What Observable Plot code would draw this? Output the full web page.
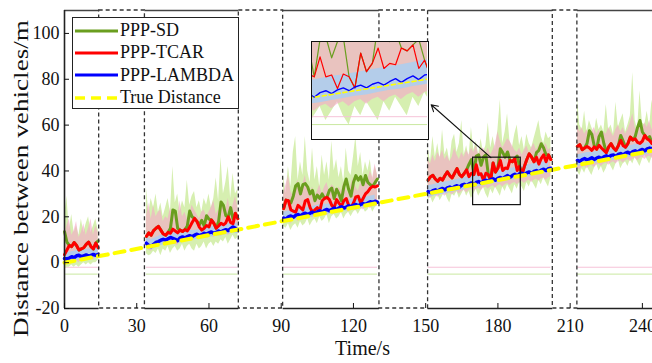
<!DOCTYPE html>
<html><head><meta charset="utf-8">
<script src="https://cdn.jsdelivr.net/npm/d3@7"></script>
<script src="https://cdn.jsdelivr.net/npm/@observablehq/plot@0.6"></script>
<style>
html,body{margin:0;padding:0;background:#fff;overflow:hidden}
#wrap{position:relative;width:652px;height:363px;font-family:"Liberation Serif","Times New Roman",serif}
#inset{position:absolute;left:311px;top:41px;width:118px;height:99px;border:1.5px solid #111;box-sizing:border-box;overflow:hidden;background:#fff}
#legend{position:absolute;left:72px;top:17px;width:167px;height:92px;border:1.4px solid #222;box-sizing:border-box;background:#fff;font-size:18px;color:#111;font-family:"Liberation Serif",serif}
.row{position:absolute;left:0;height:22px;display:flex;align-items:center;white-space:nowrap}
</style></head><body><div id="wrap"></div>
<script>
// ---------- data ----------
const segStart = [0, 34, 91, 151, 213];          // first epoch of each tracked segment (s)
const outStart = [14.4, 72.4, 130.8, 202.8];      // signal outage intervals (s)
const outEnd   = [33.4, 90.8, 151, 213];
const xTicks = [0, 30, 60, 90, 120, 150, 180, 210, 240];
const yTicks = [-20, 0, 20, 40, 60, 80, 100];

const trueT = [0, 244];
const trueD = [0, 48.8];

// PPP-SD (1 s)
const sd = [
 [13.5,9.0,7.5,7.0,8.8,7.5,5.5,6.0,6.5,8.0,9.0,7.0,6.0,8.5,9.5],
 [11.5,13.0,12.0,14.0,15.0,15.8,14.2,12.5,12.0,13.2,15.0,23.0,22.5,15.0,14.2,13.6,14.4,16.0,22.5,20.0,19.3,18.0,16.5,18.5,16.0,20.5,19.0,18.6,17.2,15.0,18.0,26.5,25.0,20.5,20.0,24.0,19.0,21.5,19.2],
 [23.6,27.3,27.0,26.0,29.0,33.5,34.5,30.0,34.0,34.5,33.0,30.0,31.5,27.0,29.5,28.0,30.0,28.0,28.5,31.5,32.5,28.0,32.0,30.0,27.0,33.0,36.5,32.0,29.0,35.0,38.0,36.0,37.5,34.0,38.0,35.0,34.0,33.3,35.0,36.5],
 [36.0,37.5,38.1,36.5,35.5,36.8,36.0,38.0,39.6,38.0,37.0,39.0,41.0,38.5,37.5,38.9,40.5,43.0,45.0,38.4,46.5,47.0,42.5,46.0,47.0,38.4,36.0,43.5,39.5,41.3,49.7,48.0,46.0,48.3,44.6,44.0,45.3,46.5,42.0,38.5,42.0,45.0,47.5,46.0,44.0,48.0,49.0,51.9,50.0,47.0,47.0,45.0],
 [50.7,51.5,49.3,50.0,52.0,57.5,56.0,51.0,49.5,55.0,57.0,52.0,48.0,50.5,51.9,50.0,49.0,51.0,55.5,53.0,50.4,52.0,54.8,53.5,55.0,59.0,62.0,57.0,55.5,54.0,55.0,52.0,53.3]
];
const sdHi = [
 [20,29,14,21,13,16,12,19,13,17,20,13,16,19,14],
 [33,22,28,24,30,22,26,20,24,28,22,42,26,30,22,27,24,36,25,29,31,24,27,22,28,25,30,24,28,37,27,46,30,35,42,28,39,30,32],
 [38,30,42,33,48,55,36,44,38,55,40,35,50,36,42,33,47,38,44,36,53,40,45,37,42,35,50,40,38,46,55,42,48,38,44,40,45,36,42,38],
 [50,44,55,46,52,45,58,47,50,44,53,56,48,52,62,47,51,46,59,49,53,47,54,48,51,61,50,55,49,58,71,52,57,65,53,50,56,60,51,55,49,56,52,50,54,58,62,55,52,57,54,55],
 [72,60,58,66,57,62,59,56,63,58,60,57,69,58,60,56,70,59,62,65,57,60,64,83,62,58,75,61,60,66,59,71,62]
];
const sdLo = [
 [-3,-2,-2,-1,-2,-1,-2,-1,0,-1,0,-1,0,0,1],
 [4,3,3.5,5,4,6,3,6,5,7,4,6,7,5,6,8,5,7,8,6,5,8,6,7,9,6,8,9,7,9,8,10,9,11,8,10,12,10,11],
 [16,15,17,14,16,17,15,18,16,17,19,16,18,19,17,20,18,19,21,17,20,21,19,20,22,19,21,22,20,22,23,21,23,24,22,23,25,22,24,25],
 [27,29,26,28,30,27,29,31,28,26,30,29,31,28,30,32,29,31,28,30,32,29,31,33,30,28,32,30,33,31,29,33,31,34,32,30,34,32,35,33,31,35,33,36,34,32,36,34,37,35,33,37],
 [40,38,41,39,42,40,38,41,43,40,42,39,41,44,42,40,43,45,41,43,44,42,45,43,46,44,42,45,47,45,43,46,48]
];

// PPP-TCAR (1 s)
const tcar = [
 [3.5,5.5,7.5,7.0,8.8,7.5,5.5,6.0,6.5,8.0,9.0,7.0,6.0,8.5,6.5],
 [11.5,13.0,12.0,14.0,15.0,15.8,14.2,12.5,12.0,13.2,12.8,14.6,13.8,13.0,14.2,13.6,14.4,13.8,15.5,17.5,19.3,18.0,15.5,14.2,15.0,16.2,15.6,18.6,17.2,15.0,16.0,17.2,16.5,17.4,20.0,17.5,17.0,21.5,19.2],
 [23.6,27.3,27.0,23.0,22.5,22.0,25.0,24.0,23.0,27.0,27.5,24.0,22.0,23.0,24.0,22.5,27.0,28.0,28.5,27.5,25.0,24.0,27.5,26.0,24.5,27.0,28.0,25.0,24.0,26.0,28.7,29.0,26.0,28.0,30.0,31.0,32.5,33.3,33.0,33.5],
 [36.0,37.5,38.1,36.5,35.5,36.8,36.0,38.0,39.6,38.0,37.0,39.0,41.0,38.5,37.5,38.9,40.5,37.5,39.0,38.4,42.7,38.4,38.8,35.9,39.0,38.4,36.0,43.5,39.5,41.3,44.6,40.2,41.3,41.0,44.6,44.0,45.3,40.2,42.0,38.5,42.0,45.0,47.5,46.0,44.0,46.0,43.0,45.5,47.0,44.0,47.0,45.0],
 [50.7,51.5,49.3,50.0,50.7,50.0,49.0,50.5,49.5,51.2,50.0,49.0,48.0,50.5,51.9,50.0,49.0,51.0,53.3,51.0,50.4,52.0,54.8,53.5,54.0,52.5,52.0,53.0,55.5,54.0,53.3,52.0,53.3]
];
const tcarHi = [
 [12,16,19,12,14,18,11,13,17,12,15,19,12,16,13],
 [20,26,19,25,20,22,23,18,20,19,24,20,22,19,27,20,22,19,21,25,23,21,19,22,23,20,22,24,27,21,23,22,26,23,28,22,25,29,24],
 [30,34,38,31,29,33,36,30,34,38,32,30,33,29,31,34,30,33,35,31,34,33,30,33,31,35,32,30,34,37,33,31,35,33,38,36,40,37,43,38],
 [45,43,47,44,48,46,49,45,47,44,46,50,47,45,48,46,49,47,50,48,51,47,49,50,48,50,47,49,52,57,53,50,52,54,53,51,49,48,50,47,49,51,48,50,52,49,51,53,50,52,49,50],
 [60,57,59,56,58,55,57,59,56,58,55,57,56,59,57,55,58,60,57,59,56,58,61,65,59,57,60,58,61,59,62,58,60]
];
const tcarLo = [
 [-1,0,1,0,1,1,0,1,2,1,1,2,1,2,2],
 [6.5,5.5,5.0,6.0,7.0,7.5,8.0,8.5,8.0,8.5,9.0,8.5,8.0,7.5,9.0,9.5,9.0,9.5,10.0,9.5,10.0,10.5,10.0,10.5,11.0,10.5,11.0,11.5,11.0,11.5,12.0,11.5,12.0,12.5,12.0,12.5,13.5,13.0,12.5],
 [17,17.5,18,17,18.5,19,18,19.5,20,19,20,20.5,19.5,20.5,21,20,21,21.5,20.5,21.5,22,21,22,22.5,21.5,22.5,23,22,23,23.5,22.5,23.5,24,23,24,24.5,23.5,24.5,25,24.5],
 [28.5,28,29,29.5,28.5,29.5,30,29,30,30.5,29.5,30.5,31,30,31,31.5,30.5,31.5,32,31,32,32.5,31.5,32.5,33,32,33,33.5,32.5,33.5,34,33,34,34.5,33.5,34.5,35,34,35,35.5,34.5,35.5,36,35,36,36.5,35.5,36.5,37,36,37,37.5],
 [41,40.5,41.5,42,41,42,42.5,41.5,42.5,43,42,43,43.5,42.5,43.5,44,43,44,44.5,43.5,44.5,45,44,45,45.5,44.5,45.5,46,45,46,46.5,45.5,46.5]
];

// PPP-LAMBDA (1 s line, 2 s band)
const lam = [
 [1.8,1.6,2.0,2.6,2.2,3.0,3.2,2.6,3.0,3.4,2.8,3.2,3.6,3.2,3.6],
 [8.5,7.5,7.0,8.0,8.8,9.2,9.8,10.2,9.8,10.4,11.0,10.6,10.2,9.6,10.8,11.2,10.8,11.4,11.8,11.4,12.0,12.4,11.8,12.2,12.8,12.4,13.0,13.4,12.8,13.2,13.8,13.4,14.0,14.4,14.0,14.8,15.6,15.0,14.2],
 [19.5,19.0,20.0,20.4,19.8,20.6,21.0,20.4,21.2,21.6,21.0,21.6,22.0,21.4,22.2,22.6,22.0,22.8,23.2,22.6,23.2,23.8,23.2,23.8,24.4,23.8,24.2,24.8,24.4,25.0,25.4,24.8,25.4,25.8,25.4,26.0,26.6,26.2,26.8,26.4],
 [31.0,30.6,31.4,31.8,31.2,32.0,32.4,31.8,32.6,33.0,32.4,33.2,33.6,33.0,33.8,34.2,33.6,34.4,34.8,34.0,35.0,35.4,34.8,35.6,36.0,35.4,36.2,36.6,36.0,36.8,37.2,36.6,37.4,38.0,37.2,38.0,38.6,37.8,38.8,39.0,38.4,39.2,39.6,39.0,39.8,40.2,39.6,40.4,40.8,40.2,41.0,41.2],
 [44.6,44.2,45.0,45.4,44.8,45.2,45.8,45.0,45.6,46.0,45.4,46.2,46.6,46.0,46.8,47.0,46.4,47.2,47.6,47.0,47.8,48.2,47.6,48.4,48.8,48.2,49.0,49.4,48.8,49.6,50.0,49.6,50.4]
];
const lamHi = [
 [4,4.5,5,5.5,5.5,6,6,6],
 [11,10,11,12,12.5,13,13,12.5,13.5,14,14,14.5,15,15.5,16,16,16.5,17,17.5,17],
 [22,22.5,23,23.5,24,24,24.5,25,25.5,25.5,26,26.5,27,27,27.5,28,28.5,28.5,29,29.5],
 [33.5,34,34.5,35,35.3,35.8,36.3,36.8,37.2,37.6,38,38.5,38.8,39.3,39.7,40.2,40.6,41,41.5,42,42.3,42.8,43.2,43.7,44,44.3],
 [47,47.5,48,48,48.5,49,49,49.5,50,50.5,50.5,51,51.5,51.5,52,52.5,53]
];
const lamLo = [
 [0,0.5,1,1,1.5,1.5,2,2],
 [6.5,5.5,6.5,7.5,8,8.5,9,8.5,9,9.5,10,10,10.5,11,11.5,11.5,12,12.5,13,12.5],
 [17.5,18,18.5,19,19.5,19.5,20,20.5,21,21,21.5,22,22.5,22.5,23,23.5,24,24,24.5,25],
 [28.5,29,29.5,29.8,30.3,30.7,31.2,31.6,32,32.5,32.8,33.3,33.7,34.2,34.5,35,35.5,35.8,36.3,36.7,37.2,37.5,38,38.4,38.8,39.2],
 [42,42.5,43,43,43.5,44,44,44.5,45,45.5,45.5,46,46.5,46.5,47,47.5,48]
];

// faint constant lines under each segment
const baseVals = [-2, -5];
const baseColors = ["#f6c3d8", "#c9e8a0"];
// zoom box and inset
const zoomT = [169.7, 189.5];
const zoomD = [25.1, 45.8];
const insetLineVals = [29.8, 28.1];
const arrowFrom = [177.1, 45.8];
const arrowTo = [152.3, 68.9];

const legendLabels = ["PPP-SD", "PPP-TCAR", "PPP-LAMBDA", "True Distance"];
const legendColors = ["#6a9e1f", "#ff0000", "#0000ff", "#ffff00"];
const legendDash = [null, null, null, "10,6"];
const xTitle = "Time/s";
const yTitle = "Distance between vehicles/m";

// ---------- tables ----------
function lineRows(arr, step = 1) {
  return arr.flatMap((vals, s) => vals.map((v, i) => ({t: segStart[s] + i * step, seg: s, v})));
}
function bandRows(lo, hi, step = 1) {
  return lo.flatMap((vals, s) => vals.map((v, i) => ({t: segStart[s] + i * step, seg: s, lo: v, hi: hi[s][i]})));
}
const sdRows = lineRows(sd), tcarRows = lineRows(tcar), lamRows = lineRows(lam);
const sdBand = bandRows(sdLo, sdHi), tcarBand = bandRows(tcarLo, tcarHi), lamBand = bandRows(lamLo, lamHi, 2);
const trueRows = trueT.map((t, i) => ({t, v: trueD[i]}));
const outRows = outStart.map((a, i) => ({a, b: outEnd[i]}));
const frameRows = [0, ...outEnd].map((a, i) => ({a, b: i < outStart.length ? outStart[i] : 244.2}));
const segSpan = segStart.map((s, i) => ({a: s, b: s + (sd[i].length - 1)}));
const baseRows = baseVals.flatMap((v, k) => segSpan.map(sp => ({...sp, v, c: baseColors[k]})));
const yMin = yTicks[0], yMax = 110;

function bandMarks() {
  return [
    Plot.areaY(sdBand, {x: "t", y1: "lo", y2: "hi", z: "seg", fill: "#d6efb0"}),
    Plot.areaY(tcarBand, {x: "t", y1: "lo", y2: "hi", z: "seg", fill: "#f5a8c8", fillOpacity: 0.62}),
    Plot.areaY(lamBand, {x: "t", y1: "lo", y2: "hi", z: "seg", fill: "#a6cff5", fillOpacity: 0.8})
  ];
}
function lineMarks(w, dash) {
  return [
    Plot.lineY(sdRows, {x: "t", y: "v", z: "seg", stroke: "#6a9e1f", strokeWidth: w}),
    Plot.lineY(tcarRows, {x: "t", y: "v", z: "seg", stroke: "#ff0000", strokeWidth: w}),
    Plot.lineY(lamRows, {x: "t", y: "v", z: "seg", stroke: "#0000ff", strokeWidth: w * 1.15}),
    Plot.line(trueRows, {x: "t", y: "v", stroke: "#ffff00", strokeWidth: w * 1.35, strokeDasharray: dash})
  ];
}

const main = Plot.plot({
  width: 652, height: 363,
  marginLeft: 64, marginRight: 0, marginTop: 10, marginBottom: 55,
  x: {domain: [0, 244.2]},
  y: {domain: [yMin, yMax]},
  style: {fontFamily: "Liberation Serif, serif", fontSize: "18px", color: "#111", background: "white", overflow: "hidden"},
  marks: [
    Plot.ruleY(baseRows, {y: "v", x1: "a", x2: "b", stroke: "c", strokeWidth: 1}),
    ...bandMarks(),
    ...lineMarks(3, "10,7"),
    Plot.rect(outRows, {x1: "a", x2: "b", y1: yMin, y2: yMax, fill: "none", stroke: "#333", strokeWidth: 1.3, strokeDasharray: "4,3"}),
    Plot.ruleY(frameRows, {y: yMax, x1: "a", x2: "b", stroke: "#444", strokeWidth: 1.6}),
    Plot.ruleY(frameRows, {y: yMin, x1: "a", x2: "b", stroke: "#222", strokeWidth: 1.6}),
    Plot.ruleX([0], {stroke: "#222", strokeWidth: 1.6}),
    Plot.rect([{}], {x1: zoomT[0], x2: zoomT[1], y1: zoomD[0], y2: zoomD[1], fill: "none", stroke: "#111", strokeWidth: 1.2}),
    Plot.arrow([{}], {x1: arrowFrom[0], y1: arrowFrom[1], x2: arrowTo[0], y2: arrowTo[1], stroke: "#111", strokeWidth: 1.1, headLength: 10}),
    Plot.axisX({ticks: xTicks, tickSize: -5, tickPadding: 16, label: null, tickFormat: d => d}),
    Plot.axisY({ticks: yTicks, tickSize: -5, tickPadding: 10, label: null, tickFormat: d => d}),
    Plot.text([xTitle], {frameAnchor: "bottom", dy: 40, dx: 4, fontSize: 20, lineAnchor: "middle"})
  ]
});

const inset = Plot.plot({
  width: 115, height: 96, margin: 0,
  x: {domain: zoomT, axis: null},
  y: {domain: zoomD, axis: null},
  style: {background: "white"},
  marks: [
    ...bandMarks(),
    Plot.ruleY(insetLineVals, {stroke: (d, i) => baseColors[i], strokeWidth: 1}),
    ...lineMarks(1.2, "4,3")
  ]
});

const wrap = document.getElementById("wrap");
wrap.appendChild(main);
// rotated y-axis title
d3.select(main).append("text")
  .attr("transform", "translate(28,178.5) rotate(-90)")
  .attr("text-anchor", "middle")
  .attr("font-family", "Liberation Serif, serif")
  .attr("font-size", 21)
  .attr("fill", "#111")
  .attr("textLength", 317)
  .attr("lengthAdjust", "spacingAndGlyphs")
  .text(yTitle);

const insetDiv = document.createElement("div");
insetDiv.id = "inset";
insetDiv.appendChild(inset);
wrap.appendChild(insetDiv);

const leg = document.createElement("div");
leg.id = "legend";
legendLabels.forEach((lab, i) => {
  const row = document.createElement("div");
  row.className = "row";
  row.style.top = (1.5 + 22.4 * i) + "px";
  const svg = d3.create("svg").attr("width", 47).attr("height", 22);
  svg.append("line").attr("x1", 2).attr("x2", 45).attr("y1", 11).attr("y2", 11)
    .attr("stroke", legendColors[i]).attr("stroke-width", legendDash[i] ? 3.5 : 3)
    .attr("stroke-dasharray", legendDash[i]);
  row.appendChild(svg.node());
  const sp = document.createElement("span");
  sp.textContent = lab;
  row.appendChild(sp);
  leg.appendChild(row);
});
wrap.appendChild(leg);
</script></body></html>
